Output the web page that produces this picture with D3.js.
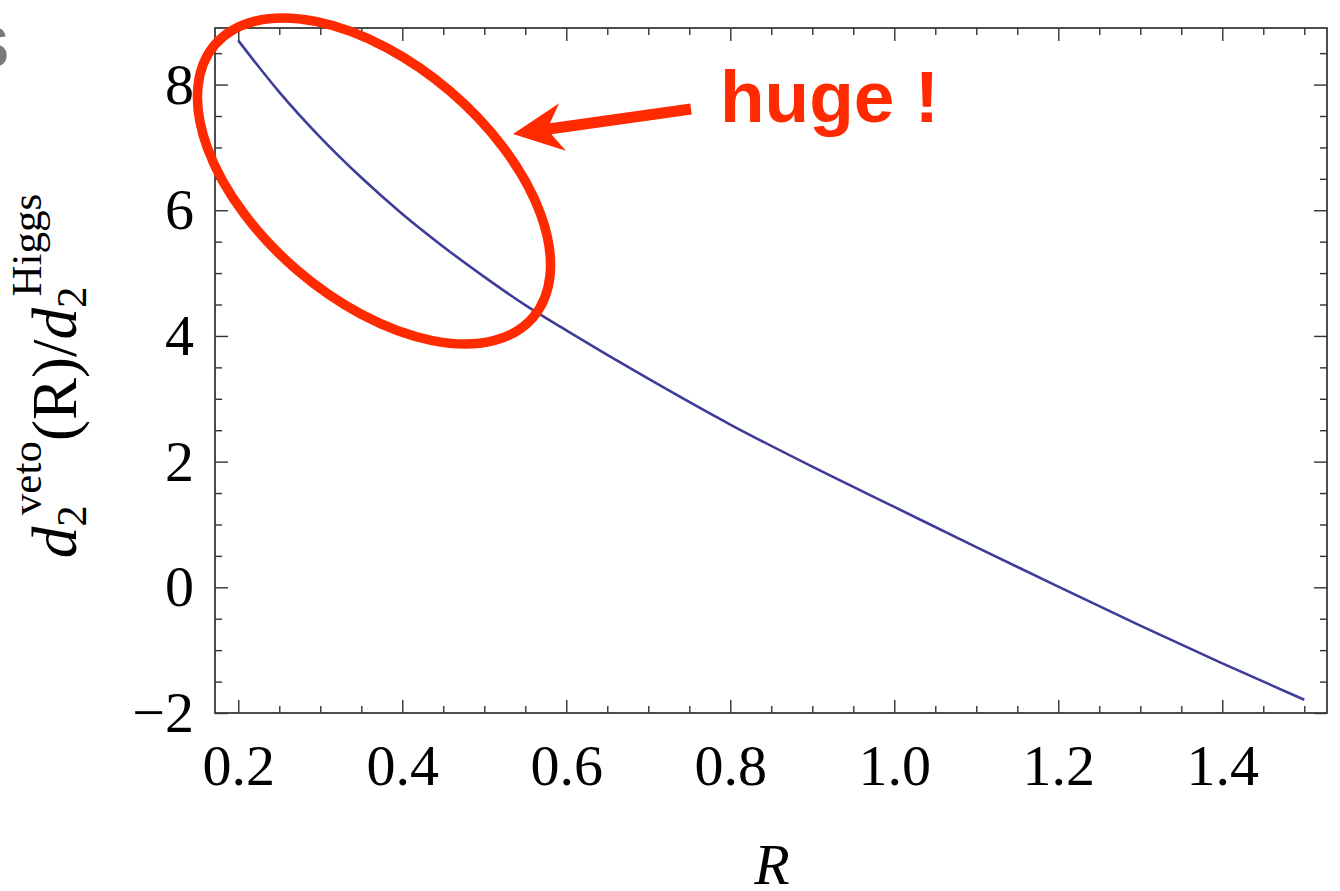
<!DOCTYPE html>
<html>
<head>
<meta charset="utf-8">
<script src="https://cdn.jsdelivr.net/npm/d3@7"></script>
<style>
  body { margin: 0; background: #fff; }
  svg { display: block; }
  .tick text { font-family: "Liberation Serif", "Times New Roman", serif; font-size: 58px; fill: #000; }
</style>
</head>
<body>
<div id="chart"></div>
<script>
// curve
var rValues = [0.2, 0.25, 0.3, 0.35, 0.4, 0.45, 0.5, 0.55, 0.6, 0.7, 0.8, 0.9, 1.0, 1.1, 1.2, 1.3, 1.4, 1.5];
var ratioValues = [8.70, 7.88, 7.16, 6.52, 5.94, 5.42, 4.94, 4.49, 4.09, 3.32, 2.59, 1.92, 1.28, 0.64, 0.01, -0.61, -1.21, -1.79];
var xTicks = [0.2, 0.4, 0.6, 0.8, 1.0, 1.2, 1.4];
var yTicks = [-2, 0, 2, 4, 6, 8];
var note = "huge !";

var width = 1340, height = 891;
var frame = { left: 215, right: 1327, top: 28, bottom: 713 };

var svg = d3.select("#chart").append("svg")
    .attr("width", width)
    .attr("height", height);

var x = d3.scaleLinear().domain([0.1716, 1.5277]).range([frame.left, frame.right]);
var y = d3.scaleLinear().domain([-2, 8.9]).range([frame.bottom, frame.top]);

var xMinor = d3.range(0.2, 1.5001, 0.05).filter(v => xTicks.every(t => Math.abs(t - v) > 1e-6));
var yMinor = d3.range(-2, 8.5001, 0.5).filter(v => yTicks.every(t => Math.abs(t - v) > 1e-6));

var major = 13, minor = 7;

function addAxis(axis, tx, ty, cls) {
    var g = svg.append("g")
        .attr("class", cls)
        .attr("transform", "translate(" + tx + "," + ty + ")")
        .call(axis);
    g.select(".domain").remove();
    g.selectAll("line").attr("stroke", "#333").attr("stroke-width", 1.4);
    return g;
}

// bottom
addAxis(d3.axisBottom(x).tickValues(xTicks).tickSizeInner(-major).tickSizeOuter(0).tickPadding(31).tickFormat(d3.format(".1f")), 0, frame.bottom, "xaxis");
addAxis(d3.axisBottom(x).tickValues(xMinor).tickSizeInner(-minor).tickSizeOuter(0).tickFormat(""), 0, frame.bottom, "xminor");
// top
addAxis(d3.axisTop(x).tickValues(xTicks).tickSizeInner(-major).tickSizeOuter(0).tickFormat(""), 0, frame.top, "xtop");
addAxis(d3.axisTop(x).tickValues(xMinor).tickSizeInner(-minor).tickSizeOuter(0).tickFormat(""), 0, frame.top, "xtopminor");
// left
addAxis(d3.axisLeft(y).tickValues(yTicks).tickSizeInner(-major).tickSizeOuter(0).tickPadding(21).tickFormat(d => d < 0 ? "\u2212" + Math.abs(d) : d), frame.left, 0, "yaxis");
addAxis(d3.axisLeft(y).tickValues(yMinor).tickSizeInner(-minor).tickSizeOuter(0).tickFormat(""), frame.left, 0, "yminor");
// right
addAxis(d3.axisRight(y).tickValues(yTicks).tickSizeInner(-major).tickSizeOuter(0).tickFormat(""), frame.right, 0, "yright");
addAxis(d3.axisRight(y).tickValues(yMinor).tickSizeInner(-minor).tickSizeOuter(0).tickFormat(""), frame.right, 0, "yrightminor");

// frame
svg.append("rect")
    .attr("x", frame.left)
    .attr("y", frame.top)
    .attr("width", frame.right - frame.left)
    .attr("height", frame.bottom - frame.top)
    .attr("fill", "none")
    .attr("stroke", "#3a3a3a")
    .attr("stroke-width", 1.8);

// curve
var line = d3.line()
    .x((d, i) => x(rValues[i]))
    .y(d => y(d))
    .curve(d3.curveMonotoneX);

svg.append("path")
    .datum(ratioValues)
    .attr("d", line)
    .attr("fill", "none")
    .attr("stroke", "#3d3d99")
    .attr("stroke-width", 2.6);

// axis titles
svg.append("text")
    .attr("x", 772)
    .attr("y", 884)
    .attr("text-anchor", "middle")
    .style("font-family", "Liberation Serif, Times New Roman, serif")
    .style("font-style", "italic")
    .style("font-size", "58px")
    .text("R");

var ylab = svg.append("text")
    .attr("transform", "translate(76,376) rotate(-90)")
    .attr("text-anchor", "middle")
    .style("font-family", "Liberation Serif, Times New Roman, serif")
    .style("font-size", "63px");
ylab.append("tspan").style("font-style", "italic").text("d");
ylab.append("tspan").style("font-size", "43px").attr("dy", 10).text("2");
ylab.append("tspan").style("font-size", "43px").attr("dx", -10).attr("dy", -45).text("veto");
ylab.append("tspan").attr("dy", 35).text("(R)/");
ylab.append("tspan").style("font-style", "italic").text("d");
ylab.append("tspan").style("font-size", "43px").attr("dy", 10).text("2");
ylab.append("tspan").style("font-size", "43px").attr("dx", -10).attr("dy", -45).text("Higgs");

// annotation
var red = "#ff2a00";
svg.append("ellipse")
    .attr("cx", 0).attr("cy", 0)
    .attr("rx", 209.5).attr("ry", 117.7)
    .attr("transform", "translate(374,181) rotate(40.6)")
    .attr("fill", "none")
    .attr("stroke", red)
    .attr("stroke-width", 9.5);

var tip = [513, 134], tail = [691, 109];
var len = Math.hypot(tail[0] - tip[0], tail[1] - tip[1]);
var u = [(tail[0] - tip[0]) / len, (tail[1] - tip[1]) / len];
var n = [-u[1], u[0]];
function pt(a, b) { return [tip[0] + a * u[0] + b * n[0], tip[1] + a * u[1] + b * n[1]]; }
var arrow = [tip, pt(50, 24), pt(38, 5.5), pt(len, 5.5), pt(len, -5.5), pt(38, -5.5), pt(50, -24)];
svg.append("path")
    .attr("d", d3.line()(arrow) + "Z")
    .attr("fill", red);

svg.append("text")
    .attr("x", 720)
    .attr("y", 122)
    .style("font-family", "Liberation Sans, Arial, Helvetica, sans-serif")
    .style("font-weight", "bold")
    .style("font-size", "73px")
    .attr("fill", red)
    .text(note);

// clipped letter at the left edge of the slide
svg.append("text")
    .attr("x", 9)
    .attr("y", 67)
    .attr("text-anchor", "end")
    .style("font-family", "Liberation Sans, Arial, sans-serif")
    .style("font-weight", "bold")
    .style("font-size", "58px")
    .attr("fill", "#7a7a7a")
    .text("S");
</script>
</body>
</html>
